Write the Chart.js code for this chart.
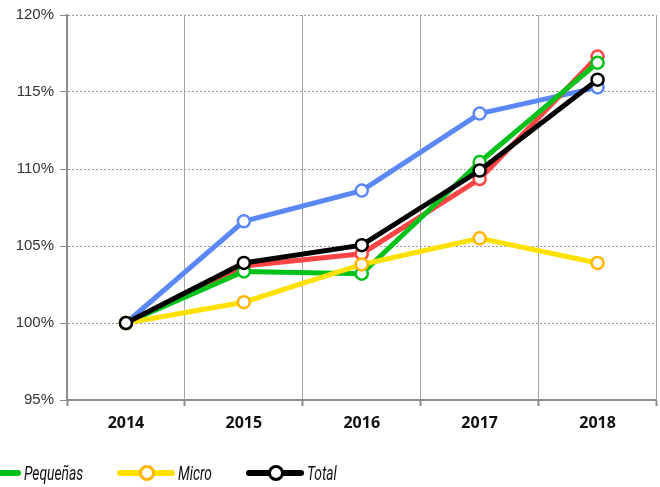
<!DOCTYPE html>
<html>
<head>
<meta charset="utf-8">
<script src="https://cdn.jsdelivr.net/npm/chart.js@4"></script>
<style>
    html, body { margin: 0; padding: 0; background: #fff; }
    #wrap { position: relative; width: 660px; height: 487px; overflow: hidden; }
    #chart { position: absolute; left: 0; top: 0; }
    #legend {
        position: absolute; right: 323px; top: 461px;
        display: flex; align-items: center; white-space: nowrap;
    }
    .item { display: flex; align-items: center; margin-left: 34px; }
    .mark { position: relative; width: 58px; height: 6px; border-radius: 3px; }
    .dot {
        position: absolute; left: 22px; top: -5px; width: 10px; height: 10px;
        border-radius: 50%; background: #fff; border: 3px solid;
    }
    .txt {
        display: inline-block; margin-left: 3px; transform-origin: left center;
        font: italic 20px Roboto, sans-serif; color: #111;
    }
</style>
</head>
<body>
<div id="wrap">
    <canvas id="chart" width="665" height="487"></canvas>
    <div id="legend"></div>
</div>
<script>
// Data (index 2014 = 100%)
const years = ['2014', '2015', '2016', '2017', '2018'];
const seriesNames = ['Grandes', 'Medianas', 'Pequeñas', 'Micro', 'Total'];
const grandes = [100, 106.6, 108.6, 113.6, 115.3];
const medianas = [100, 103.7, 104.5, 109.35, 117.3];
const pequenas = [100, 103.35, 103.2, 110.45, 116.9];
const micro = [100, 101.35, 103.8, 105.5, 103.9];
const total = [100, 103.9, 105.05, 109.9, 115.8];
const yTicks = [95, 100, 105, 110, 115, 120];

const lineColors = ['#5b87f7', '#ff4545', '#00c21a', '#ffe100', '#000000'];
const pointColors = ['#5b87f7', '#ff4545', '#00c21a', '#ffb400', '#000000'];
const drawOrder = [4, 3, 2, 1, 0];
const values = [grandes, medianas, pequenas, micro, total];

const datasets = values.map((v, i) => ({
    label: seriesNames[i],
    data: v,
    borderColor: lineColors[i],
    borderWidth: 5,
    pointRadius: 6,
    pointBorderWidth: 2.5,
    pointBorderColor: pointColors[i],
    pointBackgroundColor: '#fff',
    tension: 0,
    order: drawOrder[i]
}));

new Chart(document.getElementById('chart'), {
    type: 'line',
    data: { labels: years, datasets: datasets },
    options: {
        responsive: false,
        animation: false,
        layout: { padding: { top: 15, right: 0, bottom: 47, left: 0 } },
        plugins: { legend: { display: false }, tooltip: { enabled: false } },
        scales: {
            x: {
                offset: true,
                afterFit: s => { s.height = 40; },
                grid: {
                    offset: true,
                    color: ctx => (ctx.index === 0 || ctx.index === years.length) ? 'rgba(0,0,0,0)' : '#a6a6a6',
                    lineWidth: 1,
                    tickLength: 6,
                    tickColor: '#8c8c8c',
                    tickWidth: 2
                },
                border: { color: '#8c8c8c', width: 2 },
                ticks: {
                    color: '#111',
                    padding: 8,
                    font: { family: "'Open Sans', sans-serif", weight: 'bold', size: 16 }
                }
            },
            y: {
                min: 95,
                max: 120,
                afterFit: s => { s.width = 67; },
                afterBuildTicks: s => { s.ticks = yTicks.map(v => ({ value: v })); },
                grid: {
                    color: '#9a9a9a',
                    lineWidth: 1,
                    tickLength: 7,
                    tickColor: '#8c8c8c',
                    tickWidth: 1,
                    tickBorderDash: []
                },
                border: { color: '#8c8c8c', width: 2, dash: [2, 2] },
                ticks: {
                    color: '#333',
                    padding: 6,
                    font: { family: "'Liberation Sans', sans-serif", size: 15 },
                    callback: v => v + '%'
                }
            }
        }
    }
});

// HTML legend, right-aligned so the first entries run off the left edge like the reference
const legend = document.getElementById('legend');
legend.innerHTML = seriesNames.map((name, i) => `
    <div class="item">
        <div class="mark" style="background:${lineColors[i]}">
            <div class="dot" style="border-color:${pointColors[i]}"></div>
        </div>
        <span class="txt">${name}</span>
    </div>`).join('');

// squeeze the legend text to the condensed face of the original
const squeeze = 0.69;
legend.querySelectorAll('.txt').forEach(el => {
    const w = el.getBoundingClientRect().width;
    el.style.transform = `scaleX(${squeeze})`;
    el.style.marginRight = (-w * (1 - squeeze)) + 'px';
});
</script>
</body>
</html>
